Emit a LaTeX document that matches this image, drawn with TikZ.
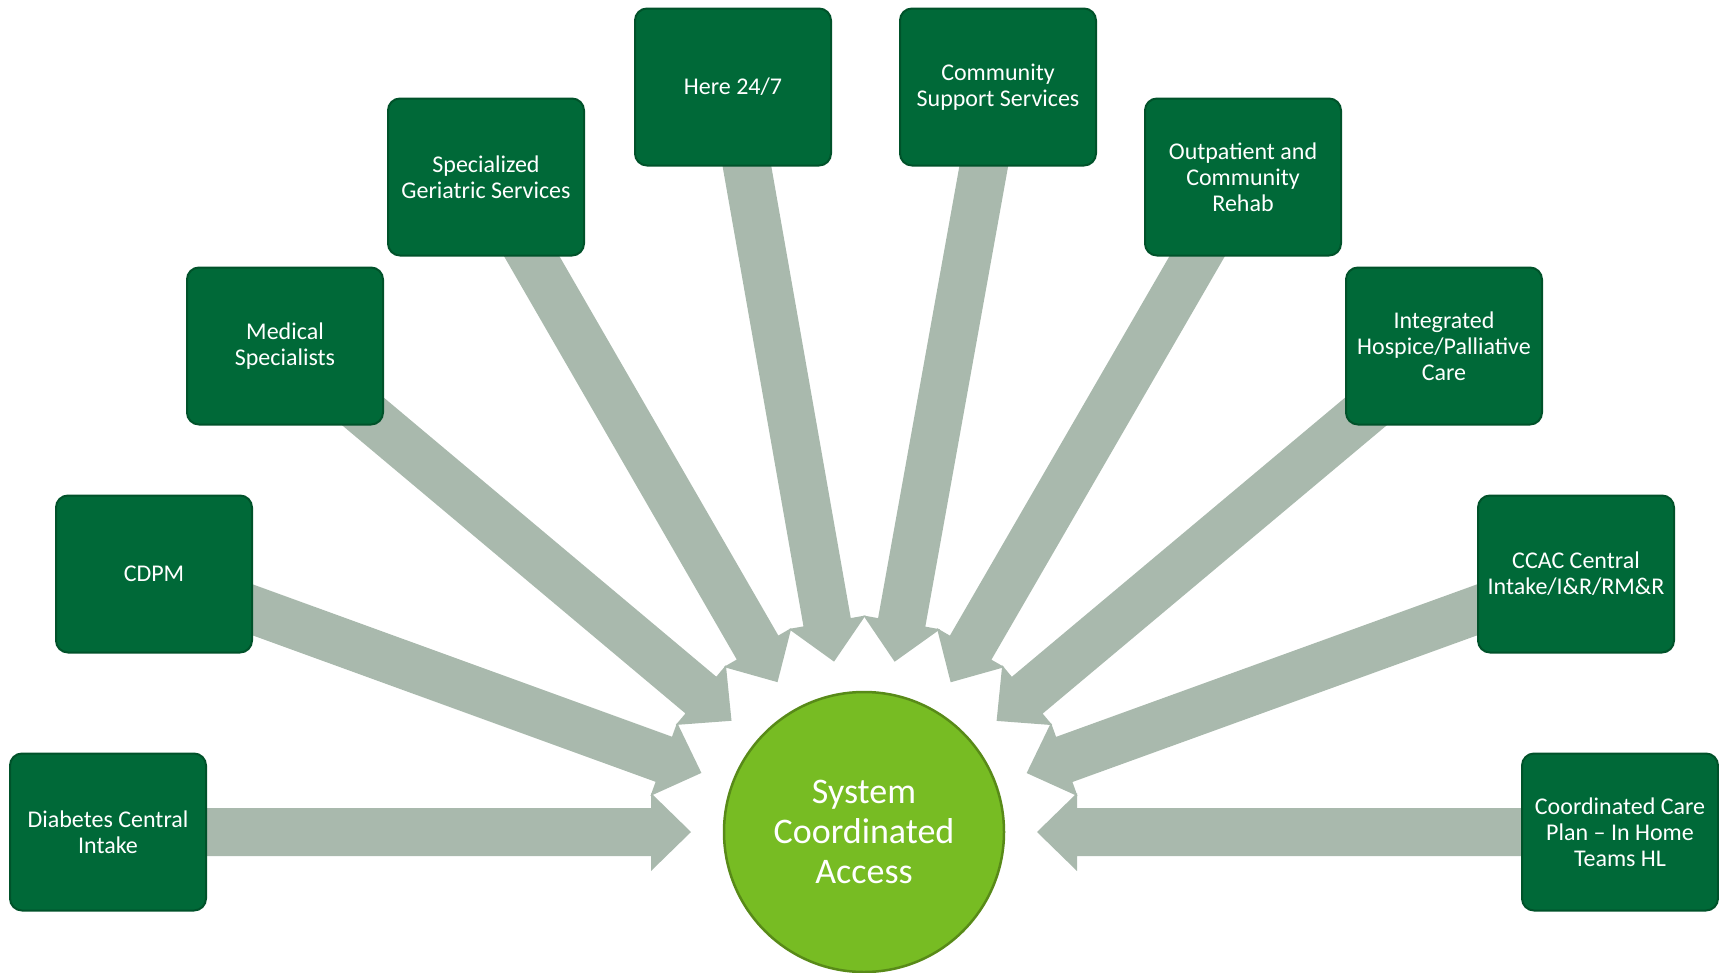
\documentclass[tikz,border=0pt]{standalone}
\usepackage{fontspec}
\setmainfont{Carlito}
\usetikzlibrary{calc,backgrounds}

\definecolor{boxgreen}{RGB}{0,105,56}
\definecolor{boxedge}{RGB}{0,82,42}
\definecolor{hubgreen}{RGB}{119,188,35}
\definecolor{hubedge}{RGB}{88,138,24}
\definecolor{feedgray}{RGB}{169,185,173}

\begin{document}
\begin{tikzpicture}[x=1pt,y=-1pt,
    service/.style={rectangle,rounded corners=12pt,draw=boxedge,line width=2pt,fill=boxgreen,text=white,
      minimum width=196pt,minimum height=157pt,align=center,font=\fontsize{24}{26}\selectfont},
    hub/.style={circle,draw=hubedge,line width=2.5pt,fill=hubgreen,text=white,
      minimum size=280pt,align=center,font=\fontsize{36}{40}\selectfont},
    feed/.style={fill=feedgray}]
  \useasboundingbox (0,0) rectangle (1719,972);
  \node (access) at (864,832) [hub]{System\\Coordinated\\Access};
  \node (diabetes) at (108,832) [service]{Diabetes Central\\Intake};
  \node (cdpm) at (154,574) [service]{CDPM};
  \node (medical) at (285,346) [service]{Medical\\Specialists};
  \node (geriatric) at (486,177) [service]{Specialized\\Geriatric Services};
  \node (here) at (733,87) [service]{Here 24/7};
  \node (support) at (998,87) [service]{Community\\Support Services};
  \node (rehab) at (1243,177) [service]{Outpatient and\\Community\\Rehab};
  \node (hospice) at (1444,346) [service]{Integrated\\Hospice/Palliative\\Care};
  \node (ccac) at (1576,574) [service]{CCAC Central\\Intake/I\&R/RM\&R};
  \node (careplan) at (1620,832) [service]{Coordinated Care\\Plan -- In Home\\Teams HL};
  % block arrows into the hub
  \begin{scope}[on background layer]
    \foreach \src in {diabetes,cdpm,medical,geriatric,here,support,rehab,hospice,ccac,careplan}{
      \coordinate (tip) at ($(access.center)!173pt!(\src.center)$);
      \coordinate (base) at ($(tip)!40pt!(\src.center)$);
      \fill[feed] ($(\src.center)!24pt!90:(tip)$) -- ($(base)!24pt!90:(tip)$) -- ($(base)!39pt!90:(tip)$)
        -- (tip) -- ($(base)!39pt!-90:(tip)$) -- ($(base)!24pt!-90:(tip)$) -- ($(\src.center)!24pt!-90:(tip)$) -- cycle;
    }
  \end{scope}
\end{tikzpicture}
\end{document}
